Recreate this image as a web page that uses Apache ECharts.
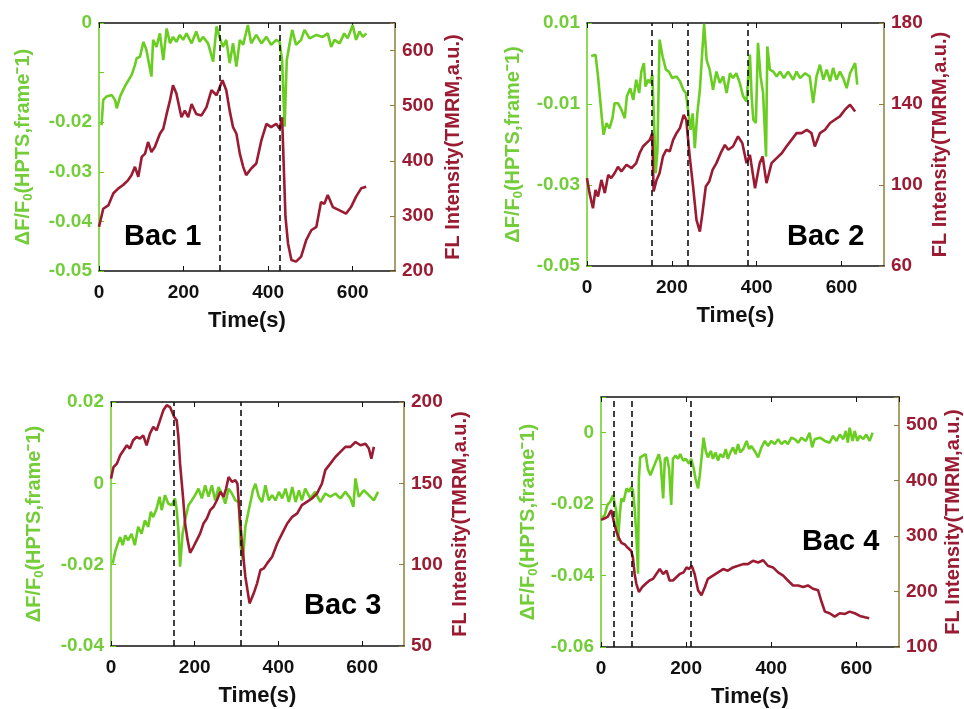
<!DOCTYPE html>
<html>
<head>
<meta charset="utf-8">
<script src="https://cdn.jsdelivr.net/npm/echarts@6/dist/echarts.min.js"></script>
<style>html,body{margin:0;padding:0;background:#fff}#c{width:964px;height:709px}</style>
</head>
<body>
<div id="c"></div>
<script>
// ---------- DATA ----------
const panelLabels = ['Bac 1', 'Bac 2', 'Bac 3', 'Bac 4'];

// Bac 1
const t1G = [6,10,18,30,38,42,50,57,65,77,85,89,97,105,112,124,128,136,144,152,160,168,175,183,191,199,207,219,230,238,246,258,270,278,285,293,301,309,317,325,333,341,352,360,372,384,396,407,419,427,433,439,444,451,457,466,478,486,498,514,529,541,549,557,569,580,588,600,608,616,624,632];
const v1G = [-0.0206,-0.0155,-0.0148,-0.0145,-0.0155,-0.0172,-0.0148,-0.0135,-0.0122,-0.0105,-0.0085,-0.0071,-0.0068,-0.0038,-0.0054,-0.0108,-0.0034,-0.0048,-0.0021,-0.0075,-0.0011,-0.0041,-0.0028,-0.0038,-0.0024,-0.0034,-0.0021,-0.0041,-0.0017,-0.0038,-0.0028,-0.0041,-0.0078,-0.0007,-0.0028,-0.0048,-0.0034,-0.0081,-0.0041,-0.0088,-0.0034,-0.0044,-0.0004,-0.0041,-0.0024,-0.0041,-0.0028,-0.0044,-0.0034,-0.0038,-0.0075,-0.0209,-0.0075,-0.0041,-0.0014,-0.0044,-0.0034,-0.0014,-0.0031,-0.0024,-0.0028,-0.0021,-0.0048,-0.0034,-0.0041,-0.0021,-0.0031,-0.0004,-0.0034,-0.0017,-0.0028,-0.0021];
const t1R = [0,10,22,34,46,57,69,77,85,93,101,109,116,124,132,144,152,160,168,175,183,195,203,211,219,230,242,254,266,278,292,301,309,317,325,333,341,348,360,372,384,396,407,419,427,433,437,441,447,455,466,478,490,502,514,525,533,541,553,569,584,596,608,620,632];
const v1R = [280,313,319,341,350,356,365,374,389,371,407,413,434,416,425,449,458,485,510,537,522,479,491,479,503,485,482,497,528,519,546,528,491,461,449,413,389,374,386,395,437,467,461,467,458,479,389,298,250,220,217,226,256,274,280,325,322,338,316,310,304,316,335,350,353];
const d1 = [285, 427];

// Bac 2
const t2G = [10,20,26,34,39,46,53,60,65,73,81,89,94,102,109,116,123,128,134,138,144,149,154,157,162,166,171,178,186,193,201,211,219,227,233,238,244,249,254,260,266,272,276,282,289,297,305,313,321,329,337,344,352,360,368,376,384,388,392,398,403,409,415,422,425,431,439,447,455,464,474,486,494,502,514,525,533,541,549,557,565,573,580,588,596,604,612,620,632,637];
const v2G = [0.0018,0.0022,-0.0032,-0.0123,-0.0176,-0.0147,-0.0160,-0.0135,-0.0098,-0.0098,-0.0114,-0.0135,-0.0081,-0.0061,-0.0090,-0.0040,-0.0073,-0.0020,0.0001,-0.0057,-0.0040,-0.0048,-0.0028,-0.0114,-0.0271,-0.0213,0.0059,0.0018,-0.0015,-0.0020,-0.0036,-0.0032,-0.0044,-0.0065,-0.0073,-0.0114,-0.0164,-0.0123,-0.0209,-0.0123,-0.0065,0.0034,0.0098,0.0009,-0.0015,-0.0065,-0.0020,-0.0048,-0.0032,-0.0073,-0.0024,-0.0036,-0.0024,-0.0048,-0.0081,-0.0094,0.0022,-0.0081,-0.0139,-0.0147,0.0051,-0.0032,-0.0073,-0.0230,0.0042,-0.0015,-0.0020,-0.0032,-0.0020,-0.0036,-0.0020,-0.0040,-0.0020,-0.0036,-0.0024,-0.0032,-0.0098,-0.0032,-0.0003,-0.0040,-0.0015,-0.0044,-0.0011,-0.0040,-0.0020,-0.0036,-0.0061,-0.0024,0.0001,-0.0052];
const t2R = [0,6,14,20,26,34,42,50,57,65,73,81,93,105,116,124,132,140,148,154,157,164,171,179,187,195,203,211,219,228,234,242,250,258,266,272,280,288,296,305,315,325,333,344,356,366,376,384,396,407,414,423,435,447,459,470,482,494,506,518,529,537,549,561,573,584,596,608,620,632];
const v2R = [103.4,96,88.5,97.6,94.3,102.5,96,105,103.4,105.8,109,106.7,110,108.3,110.8,115.7,119,120.7,122.3,125.6,96.8,102.5,105.8,114.1,117.4,116.6,122.3,125.6,128.1,134.7,132.2,114.1,99.3,82.8,77,86,99.3,101.7,107.5,110.8,115.7,119.8,117.4,119,124,120.7,110.8,114.9,98.4,110.8,114.1,100.9,110.8,113.3,115.7,119,122.3,125.6,125.6,127.3,125.6,119,125.6,127.3,130.6,132.2,133.9,137.2,139.6,136.3];
const d2 = [153, 237, 379];

// Bac 3
const t3G = [4,10,15,22,28,34,41,49,57,65,73,81,89,95,101,109,116,121,129,137,145,153,157,161,165,171,177,185,193,201,209,217,225,233,241,249,257,265,273,281,289,297,305,310,315,321,329,334,339,345,353,361,369,377,385,393,401,409,417,425,433,441,449,456,464,476,488,500,512,524,536,548,560,572,579,584,592,604,616,628,638];
const v3G = [-0.0197,-0.0168,-0.0152,-0.0132,-0.0152,-0.0128,-0.0140,-0.0124,-0.0152,-0.0107,-0.0124,-0.0091,-0.0107,-0.0070,-0.0083,-0.0062,-0.0033,-0.0066,-0.0029,-0.0050,-0.0054,-0.0037,-0.0066,-0.0115,-0.0205,-0.0124,-0.0091,-0.0054,-0.0042,-0.0029,-0.0013,-0.0037,-0.0005,-0.0033,-0.0005,-0.0042,-0.0009,-0.0025,-0.0050,-0.0013,-0.0025,-0.0042,-0.0046,-0.0156,-0.0189,-0.0107,-0.0066,-0.0042,-0.0017,-0.0001,-0.0033,-0.0046,-0.0005,-0.0042,-0.0029,-0.0042,-0.0021,-0.0037,-0.0013,-0.0046,-0.0009,-0.0046,-0.0017,-0.0042,-0.0013,-0.0037,-0.0021,-0.0046,-0.0025,-0.0033,-0.0025,-0.0037,-0.0021,-0.0037,-0.0058,0.0012,-0.0033,-0.0017,-0.0029,-0.0042,-0.0021];
const t3R = [0,6,14,22,30,38,45,53,61,69,77,85,93,101,109,117,125,133,141,145,151,157,161,165,172,177,183,189,197,205,213,221,229,237,245,253,261,269,275,281,289,297,302,307,313,321,331,341,349,357,365,373,385,397,409,421,433,445,456,468,480,492,504,512,524,536,548,560,572,584,596,608,616,622,628];
const v3R = [152.9,160,162.1,167.3,170.3,173.4,171.4,176.5,178.5,177.5,179.5,173.4,180.6,184.7,182.6,188.7,194.9,198,196.9,198,190.8,188.7,178.5,162.1,141.7,125.3,115.1,107.3,111,115.1,119.2,125.3,128.4,133.5,135.6,139.6,144.8,141.7,146.8,153.9,150.9,151.9,149.9,131.5,113,92.6,76.2,82.4,88.5,96.7,97.7,100.8,104.9,113,119.2,125.3,129.4,131.5,136.6,138.6,140.7,143.7,149.9,158.1,162.1,166.2,169.3,172.4,172.4,175.4,173.4,174.4,171.4,165.2,172.4];
const d3 = [149, 310];

// Bac 4
const t4G = [2,9,15,22,28,32,36,40,44,48,53,60,66,71,75,79,83,87,89,92,99,105,110,116,122,128,136,140,146,150,155,160,165,169,175,181,186,193,199,207,212,218,222,228,232,236,241,246,251,258,263,269,275,280,287,293,298,304,310,316,322,327,334,342,348,353,361,369,377,385,392,400,408,416,424,432,439,447,455,463,471,481,490,496,502,514,526,537,545,553,561,569,575,580,584,591,596,602,608,616,623,631,638];
const v4G = [-0.0239,-0.0230,-0.0202,-0.0193,-0.0175,-0.0170,-0.0220,-0.0303,-0.0230,-0.0184,-0.0193,-0.0156,-0.0165,-0.0152,-0.0161,-0.0211,-0.0285,-0.0395,-0.0129,-0.0069,-0.0064,-0.0060,-0.0101,-0.0119,-0.0101,-0.0083,-0.0060,-0.0083,-0.0184,-0.0073,-0.0069,-0.0101,-0.0202,-0.0073,-0.0064,-0.0073,-0.0060,-0.0078,-0.0073,-0.0087,-0.0073,-0.0101,-0.0129,-0.0156,-0.0119,-0.0073,-0.0014,-0.0051,-0.0069,-0.0051,-0.0073,-0.0055,-0.0078,-0.0060,-0.0069,-0.0046,-0.0073,-0.0055,-0.0041,-0.0060,-0.0032,-0.0055,-0.0046,-0.0023,-0.0046,-0.0037,-0.0051,-0.0069,-0.0041,-0.0023,-0.0037,-0.0023,-0.0032,-0.0018,-0.0032,-0.0023,-0.0032,-0.0014,-0.0018,-0.0028,-0.0014,-0.0023,0,-0.0041,-0.0018,-0.0014,-0.0023,-0.0028,-0.0009,-0.0023,-0.0005,-0.0018,0.0005,-0.0028,0.0014,-0.0023,0.0005,-0.0023,-0.0009,-0.0018,-0.0005,-0.0023,0];
const t4R = [0,9,16,24,28,32,36,42,48,56,63,71,75,79,83,89,97,105,114,122,130,138,146,154,161,169,177,185,194,201,207,213,220,228,236,244,251,263,275,287,298,310,322,334,345,357,369,381,392,404,416,428,439,451,463,475,486,498,510,518,526,537,549,561,573,584,596,608,620,630];
const v4R = [328.8,331.7,334.7,346.4,343.5,319.9,308.1,296.3,287.5,284.5,278.6,272.8,261,231.5,213.8,199.1,207.9,213.8,219.7,222.6,231.5,240.3,231.5,237.4,219.7,219.7,225.6,231.5,234.4,243.3,240.3,246.2,231.5,202,193.2,207.9,222.6,228.5,234.4,240.3,237.4,243.3,246.2,249.2,249.2,255.1,252.1,256.2,246.2,243.3,234.4,228.5,219.7,210.8,210.8,207.9,210.8,204.9,202,181.4,163.7,160.7,154.8,160.7,159.5,163.7,160.7,156,153.7,151.9];
const d4 = [31, 72, 211];

// axis ranges / ticks: [min, max, interval]
const xRange = [0, 700, 200];
const leftRanges = [[-0.05, 0, 0.01], [-0.05, 0.01, 0.02], [-0.04, 0.02, 0.02], [-0.06, 0.01, 0.02]];
const rightRanges = [[200, 650, 100], [60, 180, 40], [50, 200, 50], [100, 550, 100]];
const leftHiddenLabels = [[-0.01], [], [], [0.01]];
const rightHiddenLabels = [[650], [], [], [550]];

// ---------- LAYOUT / STYLE ----------
const GREEN = '#6acd22';
const GREEN_TXT = '#72cd38';
const RED = '#9a1b32';
const OLIVE = '#8f7f3a';
const FONT = '"Liberation Sans", Arial, sans-serif';

const grids = [
  {left: 99, top: 23, width: 296, height: 248},
  {left: 587, top: 23, width: 297, height: 243},
  {left: 111, top: 402, width: 293, height: 244},
  {left: 601, top: 397, width: 298, height: 254}
];
const leftGap = [64, 62, 65, 61];
const rightGap = [48, 46, 46, 44];
const bacPos = [[124, 240], [787, 240], [304, 609], [802, 545]];

const tg = [t1G, t2G, t3G, t4G], vg = [v1G, v2G, v3G, v4G];
const tr = [t1R, t2R, t3R, t4R], vr = [v1R, v2R, v3R, v4R];
const dl = [d1, d2, d3, d4];

function pair(t, v) { return t.map((x, i) => [x, v[i]]); }
function makeFmt(hidden) {
  return function (v) {
    for (const h of hidden) if (Math.abs(v - h) < 1e-9) return '';
    return String(Math.round(v * 10000) / 10000);
  };
}

const option = {
  animation: false,
  backgroundColor: '#fff',
  textStyle: {fontFamily: FONT},
  grid: grids.map(g => Object.assign({containLabel: false}, g)),
  xAxis: [],
  yAxis: [],
  series: [],
  graphic: []
};

for (let p = 0; p < 4; p++) {
  option.xAxis.push({
    type: 'value', gridIndex: p, min: xRange[0], max: xRange[1], interval: xRange[2], position: 'bottom',
    name: 'Time(s)', nameLocation: 'middle', nameGap: 39,
    nameTextStyle: {fontSize: 22, fontWeight: 'bold', color: '#111', fontFamily: FONT},
    axisLine: {onZero: false, lineStyle: {color: '#111', width: 1.5}},
    axisTick: {inside: true, length: 5, lineStyle: {color: '#111'}},
    axisLabel: {fontSize: 19, fontWeight: 'bold', color: '#111', margin: 12, fontFamily: FONT, showMaxLabel: false},
    splitLine: {show: false}
  });
  option.xAxis.push({
    type: 'value', gridIndex: p, min: xRange[0], max: xRange[1], interval: xRange[2], position: 'top',
    axisLine: {onZero: false, lineStyle: {color: '#111', width: 1.5}},
    axisTick: {inside: true, length: 5, lineStyle: {color: '#111'}},
    axisLabel: {show: false}, splitLine: {show: false}
  });
  const lr = leftRanges[p], rr = rightRanges[p];
  option.yAxis.push({
    type: 'value', gridIndex: p, min: lr[0], max: lr[1], interval: lr[2], position: 'left',
    name: 'ΔF/F{sub|0}(HPTS,frame⁻1)', nameLocation: 'middle', nameGap: leftGap[p],
    nameTextStyle: {fontSize: 20, fontWeight: 'bold', color: GREEN_TXT, fontFamily: FONT,
      rich: {sub: {fontSize: 13, fontWeight: 'bold', color: GREEN_TXT, verticalAlign: 'bottom', padding: [11, 0, 0, 0], fontFamily: FONT}}},
    axisLine: {show: true, onZero: false, lineStyle: {color: GREEN, width: 1.5}},
    axisTick: {inside: true, length: 5, lineStyle: {color: GREEN}},
    axisLabel: {fontSize: 19, fontWeight: 'bold', color: GREEN_TXT, margin: 7, fontFamily: FONT,
      formatter: makeFmt(leftHiddenLabels[p])},
    splitLine: {show: false}
  });
  option.yAxis.push({
    type: 'value', gridIndex: p, min: rr[0], max: rr[1], interval: rr[2], position: 'right',
    name: 'FL Intensity(TMRM,a.u.)', nameLocation: 'middle', nameGap: rightGap[p], nameRotate: 90,
    nameTextStyle: {fontSize: 20, fontWeight: 'bold', color: RED, fontFamily: FONT},
    axisLine: {show: true, onZero: false, lineStyle: {color: OLIVE, width: 1.5}},
    axisTick: {inside: true, length: 5, lineStyle: {color: OLIVE}},
    axisLabel: {fontSize: 19, fontWeight: 'bold', color: RED, margin: 7, fontFamily: FONT,
      formatter: makeFmt(rightHiddenLabels[p])},
    splitLine: {show: false}
  });
}

for (let p = 0; p < 4; p++) {
  option.series.push({
    type: 'line', xAxisIndex: 2 * p, yAxisIndex: 2 * p, data: pair(tg[p], vg[p]),
    showSymbol: false, symbol: 'none', lineStyle: {color: GREEN, width: 2.6}, z: 2,
    markLine: {
      silent: true, symbol: 'none', label: {show: false},
      lineStyle: {color: '#111', type: [6, 4], width: 1.6},
      data: dl[p].map(x => ({xAxis: x}))
    }
  });
  option.series.push({
    type: 'line', xAxisIndex: 2 * p, yAxisIndex: 2 * p + 1, data: pair(tr[p], vr[p]),
    showSymbol: false, symbol: 'none', lineStyle: {color: RED, width: 2.6}, z: 3
  });
  option.graphic.push({
    type: 'text', left: bacPos[p][0], top: bacPos[p][1] - 18,
    style: {text: panelLabels[p], fontSize: 29, fontWeight: 'bold', fill: '#000', fontFamily: FONT}
  });
}

const chart = echarts.init(document.getElementById('c'), null, {renderer: 'canvas'});
chart.setOption(option);
</script>
</body>
</html>
